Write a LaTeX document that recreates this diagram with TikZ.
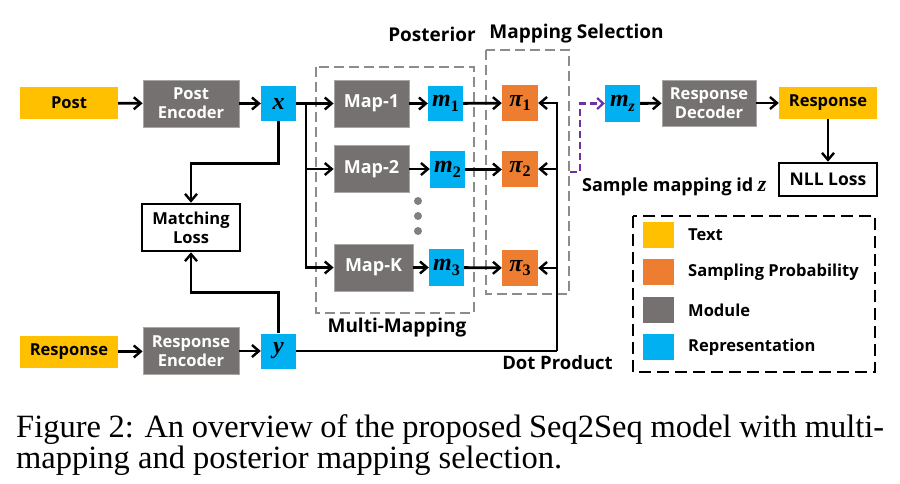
\documentclass[tikz,border=0pt]{standalone}
\usepackage{fontspec}
\setmainfont{Liberation Serif}
\newfontfamily\lab{Open Sans}
\newfontfamily\mvar{Liberation Serif}
\usetikzlibrary{arrows.meta,calc}
\definecolor{yel}{HTML}{FFC000}
\definecolor{ora}{HTML}{ED7D31}
\definecolor{gry}{HTML}{767171}
\definecolor{blu}{HTML}{00B0F0}
\definecolor{pur}{HTML}{7030A0}
\definecolor{dgr}{HTML}{8C8C8C}
\definecolor{edg}{HTML}{A9A6A6}
\newcommand{\mv}[1]{{\mvar\bfseries\itshape\fontsize{24}{24}\selectfont #1}}
\newcommand{\mvs}[2]{\mv{#1}\raisebox{-4.5pt}{\mvar\bfseries\fontsize{16}{16}\selectfont #2}}
\newcommand{\mvsi}[2]{\mv{#1}\raisebox{-4.5pt}{\mvar\bfseries\itshape\fontsize{16}{16}\selectfont #2}}
\begin{document}
\begin{tikzpicture}[x=1pt,y=-1pt,
  lbl/.style={font=\lab\bfseries\fontsize{16.5}{19}\selectfont},
  biglbl/.style={font=\lab\bfseries\fontsize{19}{22}\selectfont},
  txt/.style={lbl,fill=yel,minimum width=98,minimum height=32,inner sep=0},
  mod/.style={lbl,fill=gry,draw=edg,line width=0.8,text=white,align=center,minimum width=96,minimum height=47,inner sep=0},
  mapb/.style={font=\lab\bfseries\fontsize{18}{20}\selectfont,fill=gry,draw=edg,line width=0.8,text=white,minimum width=75,minimum height=47,inner sep=0},
  rep/.style={fill=blu,minimum width=35,minimum height=35,inner sep=0},
  prob/.style={fill=ora,minimum width=36,minimum height=36,inner sep=0},
  loss/.style={lbl,draw=black,line width=2.6,fill=white,align=center,inner sep=0},
  arr/.style={line width=2.8,-{Straight Barb[length=7pt,width=12pt,line width=2.4]}},
  ln/.style={line width=2.8},
  grpbox/.style={draw=dgr,line width=2.4,dash pattern=on 10pt off 5pt},
  captext/.style={font=\fontsize{32.5}{32.5}\selectfont,inner sep=0,anchor=base west}
]
\useasboundingbox (0,0) rectangle (900,484);

% groups
\draw[grpbox] (316,67) rectangle (474,313);
\draw[grpbox] (486,50) rectangle (569,294);
\node[biglbl] (hpost) at (432,34) {Posterior};
\node[biglbl] (hmap) at (576.5,34) {Mapping Selection};
\node[biglbl] (hmm) at (397,328) {Multi-Mapping};

% left column
\node[txt] (post) at (69,103) {Post};
\node[mod] (penc) at (191,103.5) {Post\\Encoder};
\node[rep] (x) at (278.5,103.5) {\mv{x}};
\node[loss,minimum width=98,minimum height=47] (match) at (191,227.5) {Matching\\Loss};
\node[txt] (resp) at (69,352) {Response};
\node[mod] (renc) at (191,351) {Response\\Encoder};
\node[rep] (y) at (278.5,351) {\mv{y}};

% mappings
\node[mapb] (map1) at (371.5,103.5) {Map-1};
\node[mapb] (map2) at (371.5,169) {Map-2};
\node[mapb,minimum width=79] (mapk) at (373.5,267.5) {Map-K};
\node[rep] (m1) at (445.5,103.5) {\mvs{m}{1}};
\node[rep,minimum height=37] (m2) at (447.5,169.5) {\mvs{m}{2}};
\node[rep,minimum height=37] (m3) at (446.5,267.5) {\mvs{m}{3}};
\node[prob] (p1) at (520,103) {\mvs{π}{1}};
\node[prob] (p2) at (520,169) {\mvs{π}{2}};
\node[prob] (p3) at (520,268) {\mvs{π}{3}};
\foreach \yy in {201,216,231}
  \fill[gray] (418,\yy) circle (4);

% right side
\node[rep,minimum height=37] (mz) at (622.5,103.5) {\mvsi{m}{z}};
\node[mod,minimum width=94,minimum height=46] (dec) at (709,103) {Response\\Decoder};
\node[txt] (rout) at (828,103) {Response};
\node[loss,minimum width=98,minimum height=33,font=\lab\bfseries\fontsize{17.5}{19}\selectfont] (nll) at (828,179.5) {NLL Loss};
\node[font=\lab\bfseries\fontsize{18}{20}\selectfont,anchor=west,inner sep=0] (samp) at (582,187) {Sample mapping id {\mvar\itshape\fontsize{22}{22}\selectfont z}};
\node[font=\lab\bfseries\fontsize{18.5}{20}\selectfont] (dot) at (557.5,363) {Dot Product};

% legend
\draw[line width=2.8,dash pattern=on 12pt off 6pt] (633,216) rectangle (875,372);
\node[fill=yel,minimum width=31,minimum height=26,inner sep=0] (l1) at (658.5,235) {};
\node[fill=ora,minimum width=31,minimum height=26,inner sep=0] (l2) at (658.5,272) {};
\node[fill=gry,minimum width=31,minimum height=26,inner sep=0] (l3) at (658.5,310) {};
\node[fill=blu,minimum width=31,minimum height=26,inner sep=0] (l4) at (658.5,347) {};
\node[lbl,anchor=west,inner sep=0] (t1) at (688,235) {Text};
\node[lbl,anchor=west,inner sep=0] (t2) at (688,272) {Sampling Probability};
\node[lbl,anchor=west,inner sep=0] (t3) at (688,310) {Module};
\node[lbl,anchor=west,inner sep=0] (t4) at (688,347) {Representation};

% connectors
\draw[arr] (post) -- (penc);
\draw[arr] (penc) -- (x);
\coordinate (br) at (306,103.5);
\draw[arr] (x) -- (map1);
\draw[arr] (br) |- (map2.west);
\draw[arr] (br) |- (mapk.west);
\draw[arr] (map1) -- (m1);
\draw[arr] (map2.east) -- (m2.west |- map2.east);
\draw[arr] (mapk) -- (m3);
\draw[arr] (m1) -- (p1);
\draw[arr] (m2.east) -- (p2.west |- m2.east);
\draw[arr] (m3) -- (p3);
\draw[arr] (x.south) -- ++(0,42) -| (match.north);
\draw[arr] (y.north) -- ++(0,-41) -| (match.south);
\draw[arr] (resp) -- (renc);
\draw[arr] (renc) -- (y);
\coordinate (dp) at (557,351);
\draw[ln] (y.east) -- (dp);
\draw[arr] (dp) |- (p1.east);
\draw[arr] (dp) |- (p2.east);
\draw[arr] (dp) |- (p3.east);
\coordinate (pz) at (570,172);
\draw[pur,line width=2.6,dash pattern=on 7pt off 4pt,-{Straight Barb[length=6pt,width=11pt,line width=2.2]}] (pz) -- (580,172) |- (mz.west);
\draw[arr] (mz) -- (dec);
\draw[arr] (dec) -- (rout);
\draw[arr] (rout) -- (nll);

% caption
\node[captext] (c1) at (16,437) {\makebox[868pt][s]{Figure 2: An overview of the proposed Seq2Seq model with multi-}};
\node[captext] (c2) at (16,468) {mapping and posterior mapping selection.};
\end{tikzpicture}
\end{document}
